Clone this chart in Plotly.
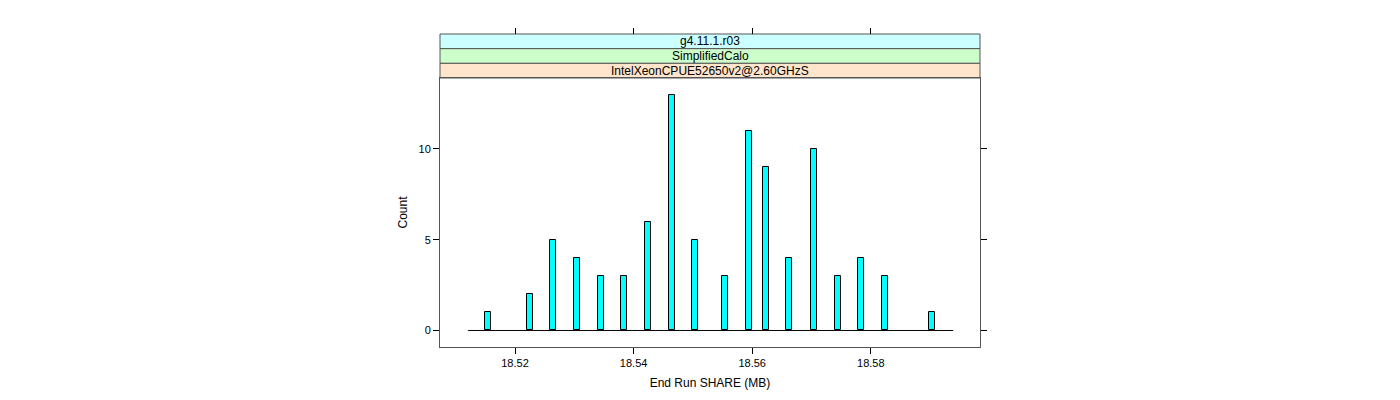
import plotly.graph_objects as go

# ---- data ----
bin_centers = [18.5155, 18.5225, 18.5264, 18.5305, 18.5345, 18.5384, 18.5424, 18.5465,
               18.5504, 18.5554, 18.5595, 18.5623, 18.5662, 18.5704, 18.5745, 18.5784,
               18.5824, 18.5903]
counts = [1, 2, 5, 4, 3, 3, 6, 13, 5, 3, 11, 9, 4, 10, 3, 4, 3, 1]
break_range = [18.5121, 18.5939]
n_bins = 80
x_ticks = [18.52, 18.54, 18.56, 18.58]
x_tick_labels = ["18.52", "18.54", "18.56", "18.58"]
y_ticks = [0, 5, 10]
strip_labels = ["g4.11.1.r03", "SimplifiedCalo", "IntelXeonCPUE52650v2@2.60GHzS"]
strip_colors = ["#CCFFFF", "#CCFFCC", "#FFE5CC"]
x_title = "End Run SHARE (MB)"
y_title = "Count"

bin_width = (break_range[1] - break_range[0]) / n_bins
x_range = [18.50735, 18.59842]
y_range = [-0.91, 13.91]

FONT = "Liberation Sans, Arial, sans-serif"
AXCOL = "#555555"

fig = go.Figure()

# zero-count bins baseline
fig.add_trace(go.Scatter(
    x=break_range, y=[0, 0], mode="lines",
    line=dict(color="black", width=1), hoverinfo="skip", showlegend=False))

fig.add_trace(go.Bar(
    x=bin_centers, y=counts, width=bin_width,
    marker=dict(color="#00FFFF", line=dict(color="black", width=1)),
    showlegend=False))

# Top tick axis (above strips)
fig.add_trace(go.Scatter(x=[x_range[0]], y=[0], xaxis="x2", mode="markers",
                         marker=dict(opacity=0), hoverinfo="skip", showlegend=False))

W, H = 1400, 400
ml, mr, mt, mb = 432, 428, 26, 61
plot_h = H - mt - mb
panel_h = 347 - 78
dom_top = panel_h / plot_h
strip_h = (1 - dom_top) / 3

shapes = []
annotations = []
for i, (lab, col) in enumerate(zip(strip_labels, strip_colors)):
    y1 = 1 - i * strip_h
    y0 = y1 - strip_h
    shapes.append(dict(type="rect", xref="paper", yref="paper", x0=0, x1=1, y0=y0, y1=y1,
                       fillcolor=col, line=dict(color=AXCOL, width=1), layer="below"))
    annotations.append(dict(xref="paper", yref="paper", x=0.5, y=(y0 + y1) / 2,
                            text=lab, showarrow=False, xanchor="center", yanchor="middle",
                            font=dict(family=FONT, size=12, color="black")))

fig.update_layout(
    width=W, height=H,
    margin=dict(l=ml, r=mr, t=mt, b=mb, autoexpand=False),
    paper_bgcolor="white", plot_bgcolor="white",
    bargap=0,
    shapes=shapes, annotations=annotations,
    font=dict(family=FONT, size=11, color="black"),
    xaxis=dict(range=x_range, tickvals=x_ticks, ticktext=x_tick_labels,
               ticks="outside", ticklen=6, tickcolor="black", tickwidth=1,
               showline=True, linecolor=AXCOL, linewidth=1, mirror=True,
               showgrid=False, zeroline=False,
               tickfont=dict(family=FONT, size=11),
               title=dict(text=x_title, font=dict(family=FONT, size=12), standoff=10),
               domain=[0, 1], anchor="y"),
    xaxis2=dict(range=x_range, tickvals=x_ticks, overlaying="x", side="top",
                anchor="free", position=1, ticks="outside", ticklen=6,
                tickcolor="black", tickwidth=1, showticklabels=False,
                showline=False, showgrid=False, zeroline=False),
    yaxis=dict(range=y_range, tickvals=y_ticks, domain=[0, dom_top],
               ticks="outside", ticklen=6, tickcolor="black", tickwidth=1,
               showline=True, linecolor=AXCOL, linewidth=1, mirror="ticks",
               showgrid=False, zeroline=False,
               tickfont=dict(family=FONT, size=11),
               title=dict(text=y_title, font=dict(family=FONT, size=12), standoff=8)),
)

fig.write_html("out.html")
